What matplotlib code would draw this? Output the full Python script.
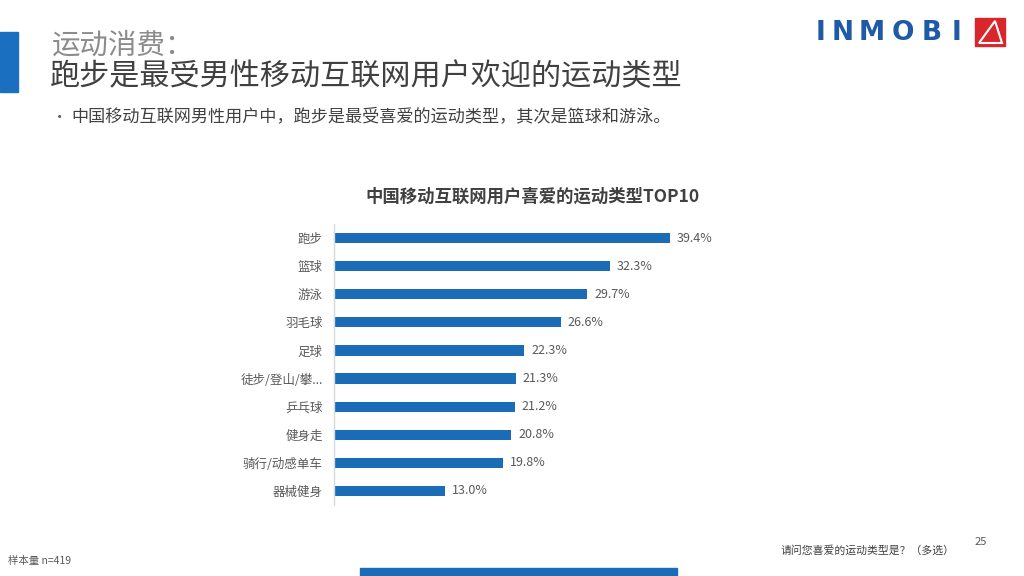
import matplotlib
matplotlib.use("Agg")
import matplotlib.pyplot as plt
from matplotlib.patches import Rectangle, Polygon

plt.rcParams['font.family'] = ['Noto Sans CJK SC', 'DejaVu Sans']

# Data
categories = ['跑步', '篮球', '游泳', '羽毛球', '足球', '徒步/登山/攀...', '乒乓球', '健身走', '骑行/动感单车', '器械健身']
values = [39.4, 32.3, 29.7, 26.6, 22.3, 21.3, 21.2, 20.8, 19.8, 13.0]

title_1 = '运动消费：'
title_2 = '跑步是最受男性移动互联网用户欢迎的运动类型'
bullet = '中国移动互联网男性用户中，跑步是最受喜爱的运动类型，其次是篮球和游泳。'
chart_title = '中国移动互联网用户喜爱的运动类型TOP10'
sample_note = '样本量 n=419'
question = '请问您喜爱的运动类型是？（多选）'
page_no = '25'
logo_letters = ['I', 'N', 'M', 'O', 'B', 'I']

W, H = 1024, 576
blue = '#1a6cb6'


def fx(x):
    return x / W


def fy(y):
    return 1 - y / H


fig = plt.figure(figsize=(W / 100, H / 100), dpi=100)
fig.patch.set_facecolor('white')

# Chart
ax = fig.add_axes([fx(334), fy(505), 45 * 8.53 / W, 281 / H])
ax.barh(range(len(values)), values, height=0.36, color=blue)
for i, v in enumerate(values):
    ax.text(v + 0.8, i, f'{v:.1f}%', va='center', ha='left', fontsize=9, color='#595959')
ax.set_xlim(0, 45)
ax.set_ylim(len(values) - 0.5, -0.5)
ax.set_yticks(range(len(categories)))
ax.set_yticklabels(categories, fontsize=9, color='#595959')
ax.tick_params(axis='y', length=0, pad=8)
ax.set_xticks([])
for s in ['top', 'right', 'bottom']:
    ax.spines[s].set_visible(False)
ax.spines['left'].set_color('#d9d9d9')
ax.spines['left'].set_linewidth(1)
ax.set_facecolor('none')

fig.text(fx(533), fy(197), chart_title, ha='center', va='center', fontsize=12.5,
         fontweight='bold', color='#404040')

# Header
fig.patches.append(Rectangle((0, fy(92)), fx(18), 60 / H, transform=fig.transFigure,
                             color='#1b6fc0'))
fig.text(fx(52), fy(46), title_1, ha='left', va='center', fontsize=20.5, color='#8c8c8c')
fig.text(fx(50), fy(77), title_2, ha='left', va='center', fontsize=21.7, color='#404040')
fig.text(fx(52), fy(117), '•', ha='left', va='center', fontsize=11, color='#595959')
fig.text(fx(71), fy(117), bullet, ha='left', va='center', fontsize=12.3, color='#404040')

# Logo
logo_x = [820, 843, 872, 903, 932, 956]
for lx, ch in zip(logo_x, logo_letters):
    fig.text(fx(lx), fy(33), ch, ha='center', va='center', fontsize=19,
             fontweight='bold', color='#1f5aa6', family='DejaVu Sans')
fig.patches.append(Rectangle((fx(975), fy(46)), 30 / W, 28 / H, transform=fig.transFigure,
                             color='#d9262b'))
fig.patches.append(Polygon([(fx(979), fy(43)), (fx(995), fy(21)), (fx(1002), fy(43))],
                           closed=True, fill=False, edgecolor='white', linewidth=1.5,
                           transform=fig.transFigure))

# Footer
fig.text(fx(8), fy(561), sample_note, ha='left', va='center', fontsize=7.5, color='#595959')
fig.text(fx(955), fy(550), question, ha='right', va='center', fontsize=7.8,
         style='italic', color='#404040')
fig.text(fx(981), fy(542), page_no, ha='center', va='center', fontsize=8, color='#595959')
fig.patches.append(Rectangle((fx(360), 0), 317 / W, 8 / H, transform=fig.transFigure,
                             color=blue))

fig.savefig('out.png', dpi=100)
